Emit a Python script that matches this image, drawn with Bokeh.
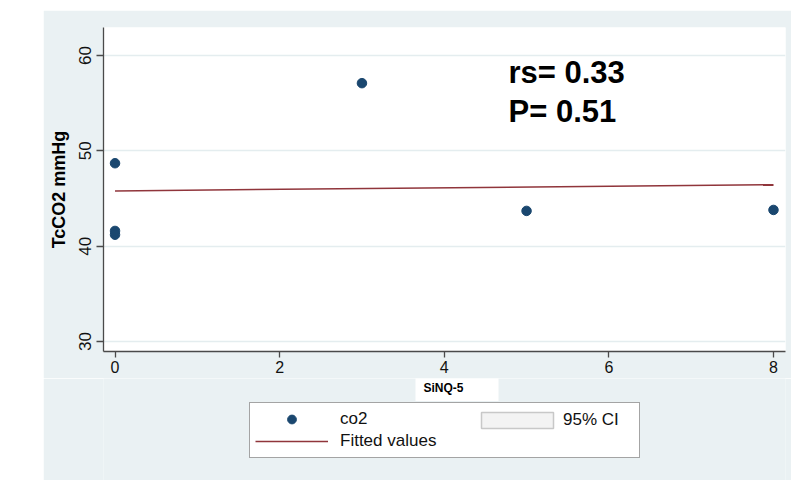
from bokeh.plotting import figure
from bokeh.models import (ColumnDataSource, Label, Legend, LegendItem, Range1d,
                          Spacer, FixedTicker)
from bokeh.layouts import row, column
from bokeh.embed import file_html
from bokeh.resources import INLINE

# ---- data ----
sinq5 = [0, 0, 0, 3, 5, 8]
co2 = [48.7, 41.6, 41.2, 57.1, 43.7, 43.8]
fit_x = [0, 8]
fit_y = [45.8, 46.45]
x_ticks = [0, 2, 4, 6, 8]
y_ticks = [30, 40, 50, 60]
stat_lines = ["rs= 0.33", "P= 0.51"]
x_title = "SiNQ-5"
y_title = "TcCO2 mmHg"
legend_labels = ["co2", "Fitted values", "95% CI"]

BG = "#eaf1f3"
GRID = "#e4edef"
AX = "#4a4a4a"
NAVY = "#1a476f"
MAROON = "#90353b"
FONT = "Liberation Sans"

LEFT_GAP = 43
FIG_W = 791 - LEFT_GAP

# ---------------- main plot ----------------
p = figure(width=FIG_W, height=368, output_backend="svg", toolbar_location=None,
           x_range=Range1d(-0.14, 8.146), y_range=Range1d(28.95, 62.94),
           min_border_left=60, min_border_right=6, min_border_top=17,
           min_border_bottom=27)
p.background_fill_color = "white"
p.border_fill_color = BG
p.outline_line_color = None

p.xgrid.visible = False
p.ygrid.ticker = FixedTicker(ticks=y_ticks)
p.ygrid.grid_line_color = GRID
p.ygrid.grid_line_width = 1.5

p.xaxis.ticker = FixedTicker(ticks=x_ticks)
p.yaxis.ticker = FixedTicker(ticks=y_ticks)
for ax in (p.xaxis[0], p.yaxis[0]):
    ax.axis_line_color = AX
    ax.axis_line_width = 1.3
    ax.major_tick_line_color = AX
    ax.major_tick_line_width = 1.3
    ax.major_tick_in = 0
    ax.minor_tick_line_color = None
    ax.major_label_text_font = FONT
    ax.major_label_text_color = "#111111"
p.xaxis.major_label_text_font_size = "16px"
p.yaxis.major_label_text_font_size = "17px"
p.xaxis.major_tick_out = 6
p.xaxis.major_label_standoff = 3
p.yaxis.major_tick_out = 7
p.yaxis.major_label_standoff = 5
p.yaxis.major_label_orientation = "vertical"
p.yaxis.axis_label = y_title
p.yaxis.axis_label_text_font = FONT
p.yaxis.axis_label_text_font_size = "18px"
p.yaxis.axis_label_text_font_style = "bold"
p.yaxis.axis_label_text_color = "black"
p.yaxis.axis_label_standoff = 8

src = ColumnDataSource(dict(x=sinq5, y=co2))
p.line(fit_x, fit_y, line_color=MAROON, line_width=1.5)
p.scatter("x", "y", source=src, size=9.5, fill_color=NAVY, line_color=NAVY)

for txt, yy in zip(stat_lines, [279, 240]):
    p.add_layout(Label(x=405, y=yy, x_units="screen", y_units="screen", text=txt,
                       text_font=FONT, text_font_size="31px", text_font_style="bold",
                       text_color="black", text_align="left", text_baseline="middle"))

# ---------------- lower strip: x title + legend ----------------
# the strip's ranges lie far from the data, so its renderers only feed the legend
q = figure(width=FIG_W, height=102, output_backend="svg", toolbar_location=None,
           x_range=Range1d(-100, -99), y_range=Range1d(-100, -99),
           min_border_left=0, min_border_right=0, min_border_top=0,
           min_border_bottom=0)
q.axis.visible = False
q.grid.visible = False
q.background_fill_color = BG
q.border_fill_color = BG
q.outline_line_color = None

leg_sc = q.scatter(sinq5, co2, size=9.5, fill_color=NAVY, line_color=NAVY)
leg_ln = q.line(fit_x, fit_y, line_color=MAROON, line_width=1.5)
leg_ci = q.quad(left=[fit_x[0]], right=[fit_x[1]], bottom=[min(fit_y)],
                top=[max(fit_y)], fill_color="#f3f3f3",
                line_color="#c8c8c8", line_width=1.5)

q.add_layout(Label(x=312, y=91, x_units="screen", y_units="screen", text=x_title,
                   text_font=FONT, text_font_size="12px", text_font_style="bold",
                   text_color="black", text_align="left", text_baseline="middle",
                   background_fill_color="white",
                   padding=dict(left=8, right=35, top=3, bottom=6)))

legA = Legend(items=[LegendItem(label=legend_labels[0], renderers=[leg_sc]),
                     LegendItem(label=legend_labels[1], renderers=[leg_ln])],
              location=(146, 22), orientation="vertical", padding=5, spacing=0,
              margin=0, glyph_width=73, glyph_height=22, label_standoff=12,
              label_width=294, label_height=22,
              label_text_font=FONT, label_text_font_size="17px",
              label_text_color="#111111",
              border_line_color=AX, border_line_width=1.3,
              background_fill_color="white", background_fill_alpha=1.0)
legB = Legend(items=[LegendItem(label=legend_labels[2], renderers=[leg_ci])],
              location=(369, 50), orientation="vertical", padding=0, spacing=0,
              margin=0, glyph_width=90, glyph_height=20, label_standoff=1,
              label_height=20,
              label_text_font=FONT, label_text_font_size="17px",
              label_text_color="#111111",
              border_line_alpha=0, background_fill_alpha=0)
q.add_layout(legA)
q.add_layout(legB)

layout = column(Spacer(height=10), row(Spacer(width=LEFT_GAP), column(p, q)))
open("out.html", "w").write(file_html(layout, INLINE))
